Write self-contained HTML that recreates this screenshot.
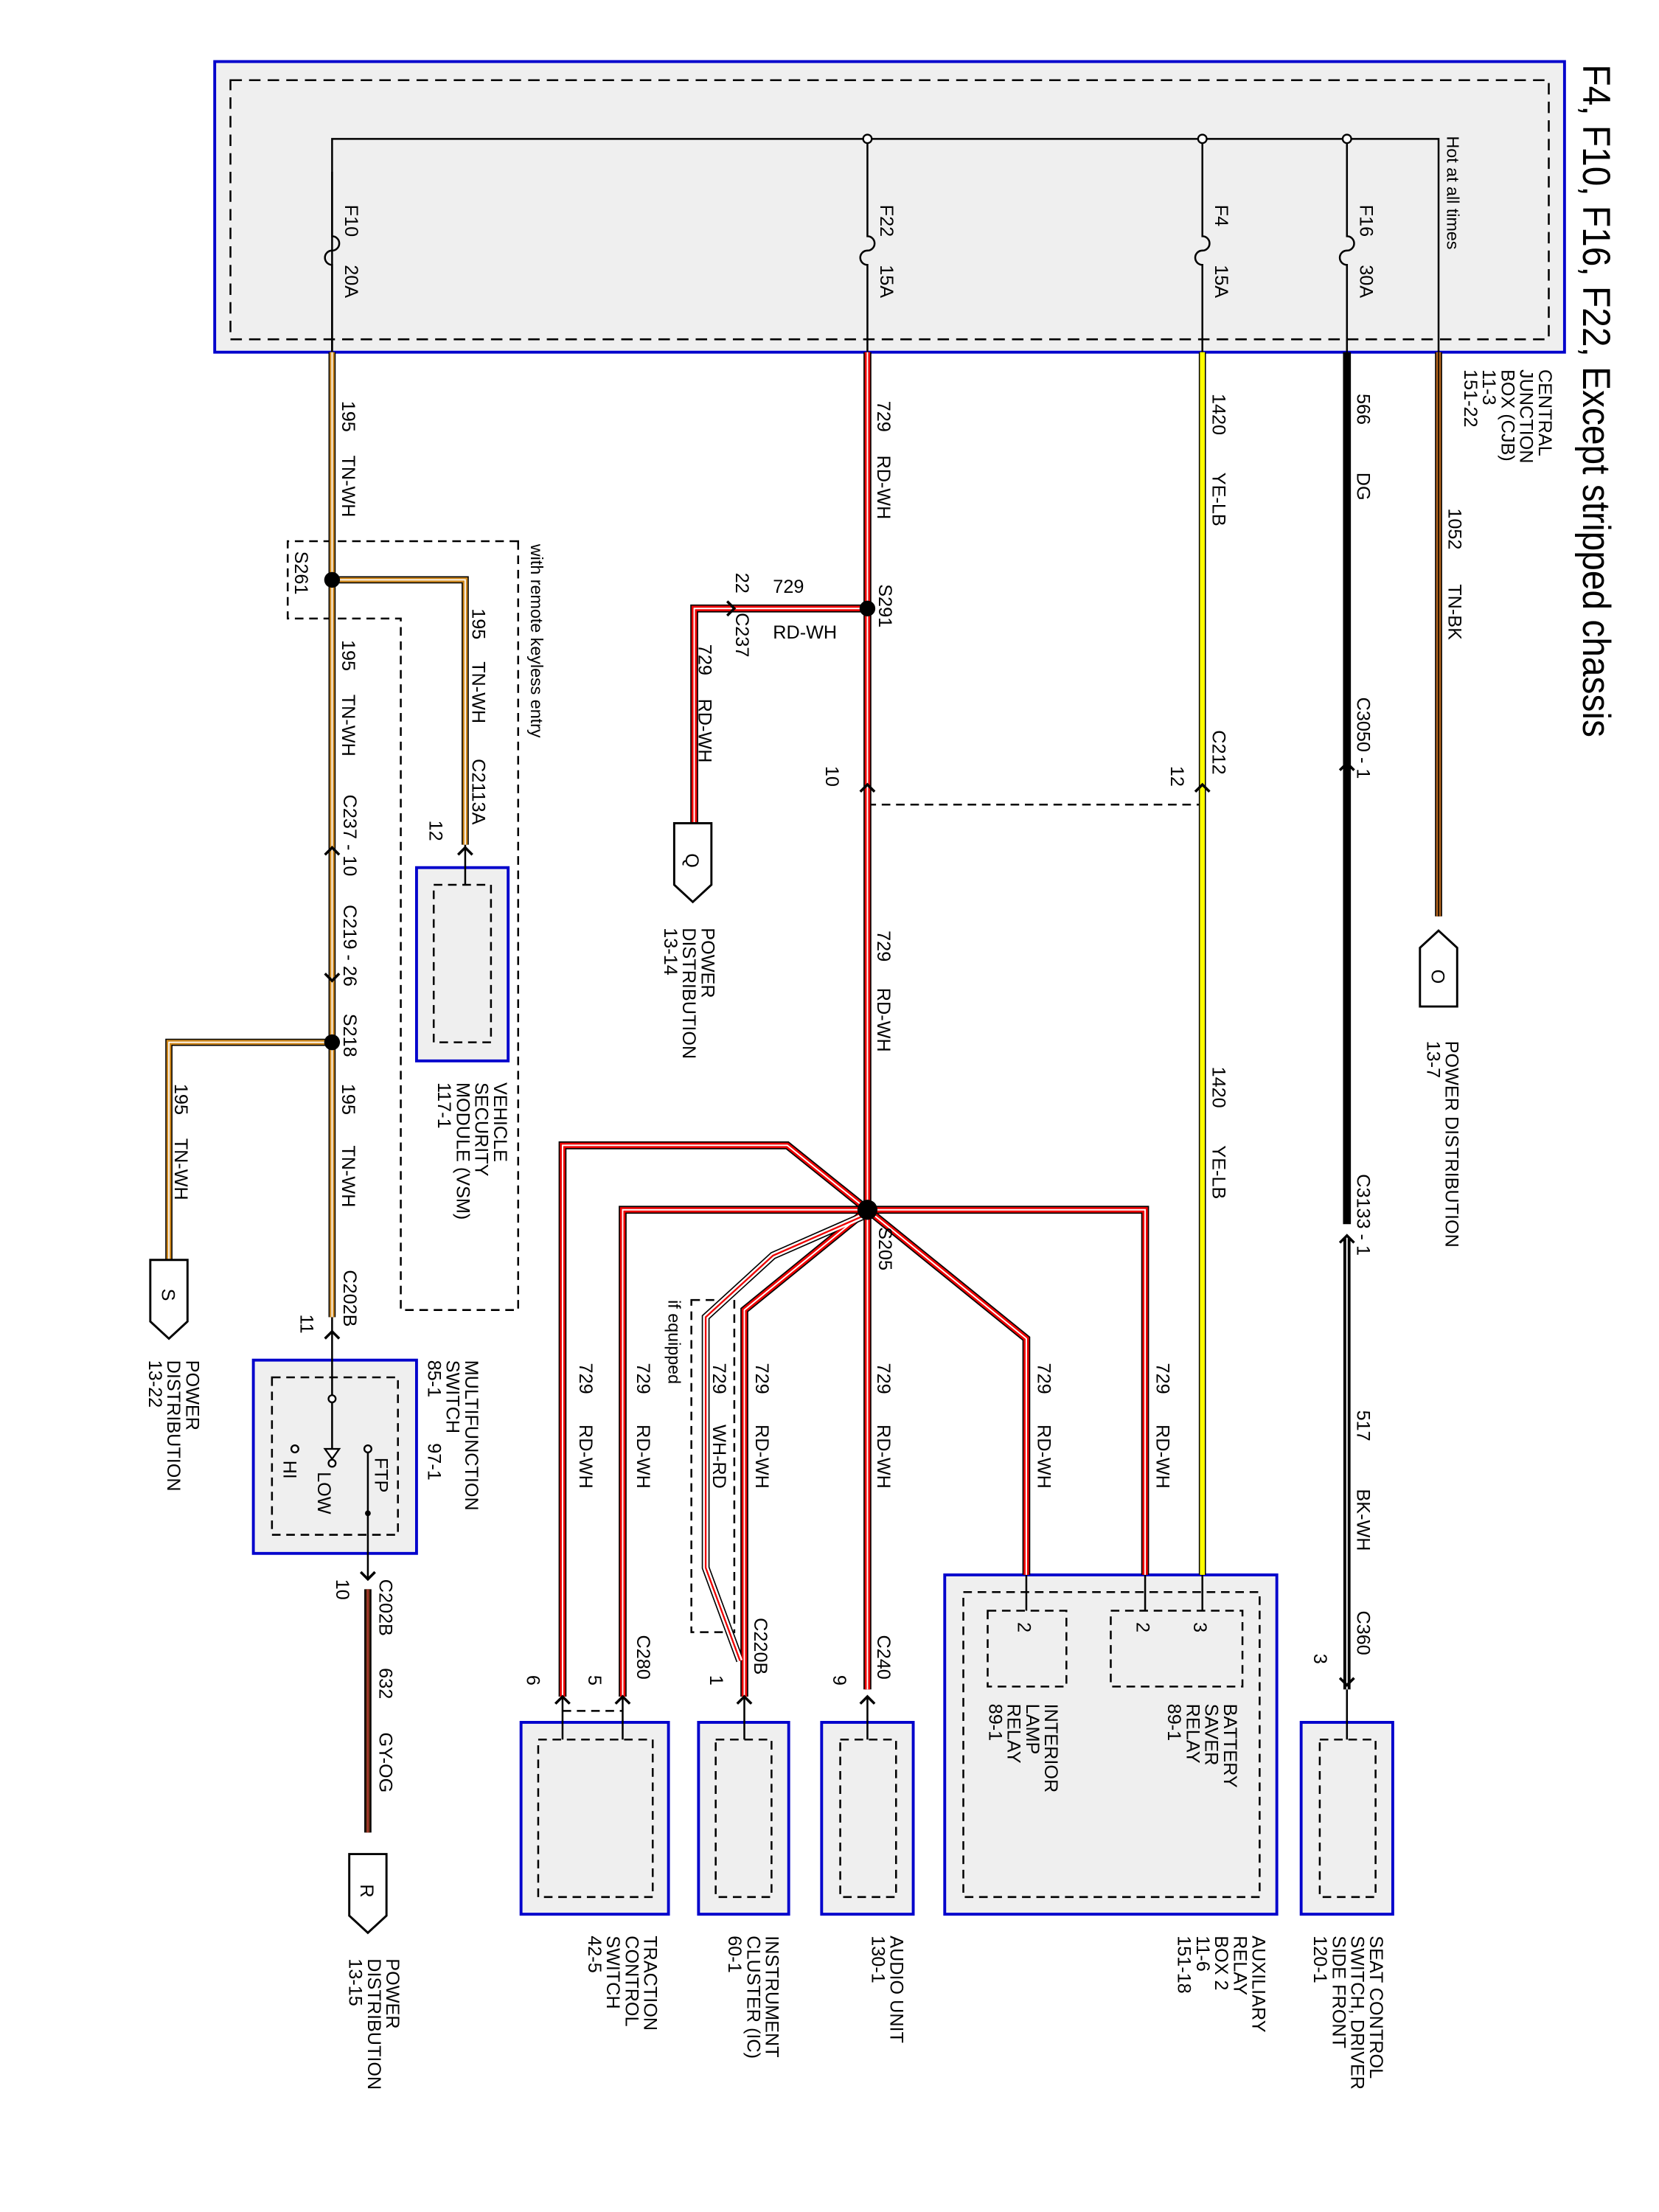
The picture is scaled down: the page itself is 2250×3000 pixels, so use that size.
<!DOCTYPE html>
<html><head><meta charset="utf-8"><style>
html,body{margin:0;padding:0;background:#fff;}
svg{display:block;}
text{font-family:"Liberation Sans",sans-serif;fill:#000;}
</style></head><body>
<svg width="2250" height="3000" viewBox="0 0 1159 1545" preserveAspectRatio="none" xmlns="http://www.w3.org/2000/svg">
<defs>
<path id="tw1" d="M232 246 V920"/>
<path id="tw2" d="M232 405 H325 V590"/>
<path id="tw3" d="M232 728 H118 V880"/>
<path id="rw0" d="M606 246 V1180"/>
<path id="rw1" d="M606 425 H485 V575"/>
<path id="rw2" d="M606 845 H800 V1100"/>
<path id="rw3" d="M606 845 L717 935 V1100"/>
<path id="rw4" d="M606 845 L520 915 V1185"/>
<path id="rw5" d="M606 845 H435 V1185"/>
<path id="rw6" d="M606 845 L550 800 H393 V1185"/>
<path id="wr" d="M606 848 L540 877 L493 920 V1095 L517 1160"/>
</defs>

<!-- CJB box -->
<rect x="150" y="43" width="943" height="203" fill="#efefef" stroke="#0000cc" stroke-width="2"/>
<rect x="161" y="56" width="921" height="181" fill="none" stroke="#000" stroke-width="1.3" stroke-dasharray="8,5"/>
<g stroke="#000" stroke-width="1.3" fill="none">
<path d="M232 246 V97 H1005 V246"/>
<path d="M941 97 V165 a5 5 0 0 1 0 10 a5 5 0 0 0 0 10 V246"/>
<path d="M840 97 V165 a5 5 0 0 1 0 10 a5 5 0 0 0 0 10 V246"/>
<path d="M606 97 V165 a5 5 0 0 1 0 10 a5 5 0 0 0 0 10 V246"/>
<path d="M232 120 V165 a5 5 0 0 1 0 10 a5 5 0 0 0 0 10 V246"/>
</g>
<g fill="#fff" stroke="#000" stroke-width="1.2"><circle cx="606" cy="97" r="3"/><circle cx="840" cy="97" r="3"/><circle cx="941" cy="97" r="3"/></g>

<!-- component boxes -->
<g fill="#efefef" stroke="#0000cc" stroke-width="2">
<rect x="660" y="1100" width="232" height="237"/>
<rect x="909" y="1203" width="64" height="134"/>
<rect x="574" y="1203" width="64" height="134"/>
<rect x="488" y="1203" width="63" height="134"/>
<rect x="364" y="1203" width="103" height="134"/>
<rect x="291" y="606" width="64" height="135"/>
<rect x="177" y="950" width="114" height="135"/>
</g>
<g fill="none" stroke="#000" stroke-width="1.3" stroke-dasharray="6,4">
<rect x="673" y="1112" width="207" height="213"/>
<rect x="776" y="1125" width="92" height="53"/>
<rect x="690" y="1125" width="55" height="53"/>
<rect x="922" y="1215" width="39" height="110"/>
<rect x="587" y="1215" width="39" height="110"/>
<rect x="500" y="1215" width="39" height="110"/>
<rect x="376" y="1215" width="80" height="110"/>
<rect x="303" y="618" width="40" height="110"/>
<rect x="190" y="962" width="88" height="110"/>
<path d="M362 378 H201 V432 H280 V915 H362 Z"/>
<rect x="483" y="908" width="30" height="232"/>
<path d="M606 562 H840"/>
<path d="M393 1195 H435"/>
</g>
<g stroke="#000" stroke-width="1.3" fill="none">
<path d="M800 1100 V1125 M717 1100 V1125 M840 1100 V1125"/>
<path d="M941 1180 V1215 M606 1185 V1215 M520 1185 V1215 M435 1185 V1215 M393 1185 V1215 M325 590 V618"/>
<path d="M232 920 V1018 M257 1012 V1103"/>
<path d="M485 575 V580"/>
</g>
<!-- switch internals -->
<g stroke="#000" stroke-width="1.2" fill="#fff">
<circle cx="232" cy="977" r="2.5"/><circle cx="257" cy="1012" r="2.5"/><circle cx="206" cy="1012" r="2.5"/>
<circle cx="232" cy="1022" r="2.5"/>
<path d="M227 1012 L237 1012 L232 1019 Z"/>
</g>
<circle cx="257" cy="1057" r="2" fill="#000"/>

<!-- wires -->
<g fill="none" stroke-linejoin="miter">
<g stroke="#000" stroke-width="5"><use href="#tw1"/><use href="#tw2"/><use href="#tw3"/></g>
<g stroke="#d08a20" stroke-width="3.4"><use href="#tw1"/><use href="#tw2"/><use href="#tw3"/></g>
<g stroke="#fff" stroke-width="0.9"><use href="#tw1"/><use href="#tw2"/><use href="#tw3"/></g>

<g stroke="#000" stroke-width="5.5"><use href="#rw0"/><use href="#rw1"/><use href="#rw2"/><use href="#rw3"/><use href="#rw4"/><use href="#rw5"/><use href="#rw6"/><use href="#wr"/></g>
<g stroke="#ee0000" stroke-width="3.8"><use href="#rw0"/><use href="#rw1"/><use href="#rw2"/><use href="#rw3"/><use href="#rw4"/><use href="#rw5"/><use href="#rw6"/></g>
<g stroke="#fff" stroke-width="1"><use href="#rw0"/><use href="#rw1"/><use href="#rw2"/><use href="#rw3"/><use href="#rw4"/><use href="#rw5"/><use href="#rw6"/></g>
<use href="#wr" stroke="#fff" stroke-width="3.8"/>
<use href="#wr" stroke="#ee0000" stroke-width="1.2"/>

<path d="M840 246 V1100" stroke="#000" stroke-width="5"/>
<path d="M840 246 V1100" stroke="#ffff00" stroke-width="3.4"/>
<path d="M941 246 V855" stroke="#000" stroke-width="5.5"/>
<path d="M941 865 V1180" stroke="#000" stroke-width="5"/>
<path d="M941 865 V1180" stroke="#fff" stroke-width="1"/>
<path d="M1005 246 V640" stroke="#000" stroke-width="5"/>
<path d="M1005 246 V640" stroke="#b5651d" stroke-width="3.4"/>
<path d="M1005 246 V640" stroke="#000" stroke-width="0.8"/>
<path d="M257 1110 V1280" stroke="#000" stroke-width="5"/>
<path d="M257 1110 V1280" stroke="#5a2a10" stroke-width="3"/>
<path d="M257 1110 V1280" stroke="#d04040" stroke-width="0.7"/>
</g>

<!-- connector chevrons -->
<g fill="none" stroke="#000" stroke-width="1.8">
<path d="M936 538 L941 533 L946 538 M936 868 L941 863 L946 868 M936 1172 L941 1177 L946 1172"/>
<path d="M835 553 L840 548 L845 553 M601 553 L606 548 L611 553"/>
<path d="M227 597 L232 592 L237 597 M227 680 L232 685 L237 680 M227 935 L232 930 L237 935 M320 597 L325 592 L330 597"/>
<path d="M601 1190 L606 1185 L611 1190 M515 1190 L520 1185 L525 1190 M430 1190 L435 1185 L440 1190 M388 1190 L393 1185 L398 1190"/>
<path d="M252 1098 L257 1103 L262 1098 M508 420 L513 425 L508 430"/>
</g>

<!-- splices -->
<g fill="#000"><circle cx="232" cy="405" r="5.5"/><circle cx="606" cy="425" r="5.5"/><circle cx="232" cy="728" r="5.5"/><circle cx="606" cy="845" r="7"/></g>

<!-- pentagon connectors -->
<g fill="#fff" stroke="#000" stroke-width="1.5">
<path d="M471 575 H497 V618 L484 630 L471 618 Z"/>
<path d="M1005 650 L1018 662 V703 H992 V662 Z"/>
<path d="M105 880 H131 V923 L118 935 L105 923 Z"/>
<path d="M244 1295 H270 V1338 L257 1350 L244 1338 Z"/>
</g>

<!-- Title -->
<text transform="translate(1106,45) rotate(90)" font-size="27" textLength="470" lengthAdjust="spacingAndGlyphs">F4, F10, F16, F22, Except stripped chassis</text>

<g font-size="13">
<!-- multi-line labels: lines go toward -x -->
<text transform="translate(1075,258) rotate(90)">CENTRAL</text>
<text transform="translate(1062,258) rotate(90)">JUNCTION</text>
<text transform="translate(1049,258) rotate(90)">BOX (CJB)</text>
<text transform="translate(1036,258) rotate(90)">11-3</text>
<text transform="translate(1023,258) rotate(90)">151-22</text>
<text transform="translate(1011,95) rotate(90)" font-size="12">Hot at all times</text>

<text transform="translate(950,143) rotate(90)">F16</text>
<text transform="translate(950,185) rotate(90)">30A</text>
<text transform="translate(849,143) rotate(90)">F4</text>
<text transform="translate(849,185) rotate(90)">15A</text>
<text transform="translate(615,143) rotate(90)">F22</text>
<text transform="translate(615,185) rotate(90)">15A</text>
<text transform="translate(241,143) rotate(90)">F10</text>
<text transform="translate(241,185) rotate(90)">20A</text>

<text transform="translate(1012,355) rotate(90)">1052</text>
<text transform="translate(1012,408) rotate(90)">TN-BK</text>
<text transform="translate(948,275) rotate(90)">566</text>
<text transform="translate(948,330) rotate(90)">DG</text>
<text transform="translate(847,275) rotate(90)">1420</text>
<text transform="translate(847,330) rotate(90)">YE-LB</text>
<text transform="translate(613,280) rotate(90)">729</text>
<text transform="translate(613,318) rotate(90)">RD-WH</text>
<text transform="translate(239,280) rotate(90)">195</text>
<text transform="translate(239,318) rotate(90)">TN-WH</text>

<text transform="translate(948,487) rotate(90)">C3050 - 1</text>
<text transform="translate(948,820) rotate(90)">C3133 - 1</text>
<text transform="translate(948,985) rotate(90)">517</text>
<text transform="translate(948,1040) rotate(90)">BK-WH</text>
<text transform="translate(948,1125) rotate(90)">C360</text>
<text transform="translate(918,1155) rotate(90)">3</text>

<text transform="translate(847,510) rotate(90)">C212</text>
<text transform="translate(818,535) rotate(90)">12</text>
<text transform="translate(847,745) rotate(90)">1420</text>
<text transform="translate(847,800) rotate(90)">YE-LB</text>

<text transform="translate(1010,727) rotate(90)">POWER DISTRIBUTION</text>
<text transform="translate(997,727) rotate(90)">13-7</text>
<text transform="translate(1000,677) rotate(90)">O</text>

<text transform="translate(614,408) rotate(90)">S291</text>
<text x="540" y="414">729</text>
<text x="540" y="446">RD-WH</text>
<text transform="translate(514,400) rotate(90)">22</text>
<text transform="translate(514,428) rotate(90)">C237</text>
<text transform="translate(488,450) rotate(90)">729</text>
<text transform="translate(488,488) rotate(90)">RD-WH</text>
<text transform="translate(479,596) rotate(90)">Q</text>
<text transform="translate(490,648) rotate(90)">POWER</text>
<text transform="translate(477,648) rotate(90)">DISTRIBUTION</text>
<text transform="translate(464,648) rotate(90)">13-14</text>

<text transform="translate(577,535) rotate(90)">10</text>
<text transform="translate(613,650) rotate(90)">729</text>
<text transform="translate(613,690) rotate(90)">RD-WH</text>
<text transform="translate(614,857) rotate(90)">S205</text>

<text transform="translate(808,952) rotate(90)">729</text><text transform="translate(808,995) rotate(90)">RD-WH</text>
<text transform="translate(725,952) rotate(90)">729</text><text transform="translate(725,995) rotate(90)">RD-WH</text>
<text transform="translate(613,952) rotate(90)">729</text><text transform="translate(613,995) rotate(90)">RD-WH</text>
<text transform="translate(528,952) rotate(90)">729</text><text transform="translate(528,995) rotate(90)">RD-WH</text>
<text transform="translate(498,952) rotate(90)">729</text><text transform="translate(498,995) rotate(90)">WH-RD</text>
<text transform="translate(445,952) rotate(90)">729</text><text transform="translate(445,995) rotate(90)">RD-WH</text>
<text transform="translate(405,952) rotate(90)">729</text><text transform="translate(405,995) rotate(90)">RD-WH</text>
<text transform="translate(467,908) rotate(90)" font-size="12">if equipped</text>

<text transform="translate(613,1142) rotate(90)">C240</text>
<text transform="translate(582,1170) rotate(90)">9</text>
<text transform="translate(527,1130) rotate(90)">C220B</text>
<text transform="translate(496,1170) rotate(90)">1</text>
<text transform="translate(445,1142) rotate(90)">C280</text>
<text transform="translate(411,1170) rotate(90)">5</text>
<text transform="translate(368,1170) rotate(90)">6</text>

<text transform="translate(834,1133) rotate(90)">3</text>
<text transform="translate(794,1133) rotate(90)">2</text>
<text transform="translate(711,1133) rotate(90)">2</text>
<text transform="translate(855,1190) rotate(90)">BATTERY</text>
<text transform="translate(842,1190) rotate(90)">SAVER</text>
<text transform="translate(829,1190) rotate(90)">RELAY</text>
<text transform="translate(816,1190) rotate(90)">89-1</text>
<text transform="translate(730,1190) rotate(90)">INTERIOR</text>
<text transform="translate(717,1190) rotate(90)">LAMP</text>
<text transform="translate(704,1190) rotate(90)">RELAY</text>
<text transform="translate(691,1190) rotate(90)">89-1</text>

<text transform="translate(957,1352) rotate(90)">SEAT CONTROL</text>
<text transform="translate(944,1352) rotate(90)">SWITCH, DRIVER</text>
<text transform="translate(931,1352) rotate(90)">SIDE FRONT</text>
<text transform="translate(918,1352) rotate(90)">120-1</text>
<text transform="translate(875,1352) rotate(90)">AUXILIARY</text>
<text transform="translate(862,1352) rotate(90)">RELAY</text>
<text transform="translate(849,1352) rotate(90)">BOX 2</text>
<text transform="translate(836,1352) rotate(90)">11-6</text>
<text transform="translate(823,1352) rotate(90)">151-18</text>
<text transform="translate(622,1352) rotate(90)">AUDIO UNIT</text>
<text transform="translate(609,1352) rotate(90)">130-1</text>
<text transform="translate(535,1352) rotate(90)">INSTRUMENT</text>
<text transform="translate(522,1352) rotate(90)">CLUSTER (IC)</text>
<text transform="translate(509,1352) rotate(90)">60-1</text>
<text transform="translate(450,1352) rotate(90)">TRACTION</text>
<text transform="translate(437,1352) rotate(90)">CONTROL</text>
<text transform="translate(424,1352) rotate(90)">SWITCH</text>
<text transform="translate(411,1352) rotate(90)">42-5</text>

<text transform="translate(252,1316) rotate(90)">R</text>
<text transform="translate(270,1368) rotate(90)">POWER</text>
<text transform="translate(257,1368) rotate(90)">DISTRIBUTION</text>
<text transform="translate(244,1368) rotate(90)">13-15</text>
<text transform="translate(265,1103) rotate(90)">C202B</text>
<text transform="translate(235,1103) rotate(90)">10</text>
<text transform="translate(265,1165) rotate(90)">632</text>
<text transform="translate(265,1210) rotate(90)">GY-OG</text>

<text transform="translate(325,950) rotate(90)">MULTIFUNCTION</text>
<text transform="translate(312,950) rotate(90)">SWITCH</text>
<text transform="translate(299,950) rotate(90)">85-1</text>
<text transform="translate(299,1008) rotate(90)">97-1</text>
<text transform="translate(262,1018) rotate(90)">FTP</text>
<text transform="translate(222,1028) rotate(90)">LOW</text>
<text transform="translate(198,1020) rotate(90)">HI</text>
<text transform="translate(240,887) rotate(90)">C202B</text>
<text transform="translate(210,918) rotate(90)">11</text>

<text transform="translate(239,757) rotate(90)">195</text><text transform="translate(239,800) rotate(90)">TN-WH</text>
<text transform="translate(240,708) rotate(90)">S218</text>
<text transform="translate(240,632) rotate(90)">C219 - 26</text>
<text transform="translate(240,555) rotate(90)">C237 - 10</text>
<text transform="translate(239,447) rotate(90)">195</text><text transform="translate(239,485) rotate(90)">TN-WH</text>
<text transform="translate(206,385) rotate(90)">S261</text>
<text transform="translate(371,380) rotate(90)" font-size="12">with remote keyless entry</text>

<text transform="translate(330,425) rotate(90)">195</text><text transform="translate(330,462) rotate(90)">TN-WH</text>
<text transform="translate(330,530) rotate(90)">C2113A</text>
<text transform="translate(300,573) rotate(90)">12</text>
<text transform="translate(345,756) rotate(90)">VEHICLE</text>
<text transform="translate(332,756) rotate(90)">SECURITY</text>
<text transform="translate(319,756) rotate(90)">MODULE (VSM)</text>
<text transform="translate(306,756) rotate(90)">117-1</text>

<text transform="translate(122,757) rotate(90)">195</text><text transform="translate(122,795) rotate(90)">TN-WH</text>
<text transform="translate(113,900) rotate(90)">S</text>
<text transform="translate(130,950) rotate(90)">POWER</text>
<text transform="translate(117,950) rotate(90)">DISTRIBUTION</text>
<text transform="translate(104,950) rotate(90)">13-22</text>
</g>
</svg>
</body></html>
